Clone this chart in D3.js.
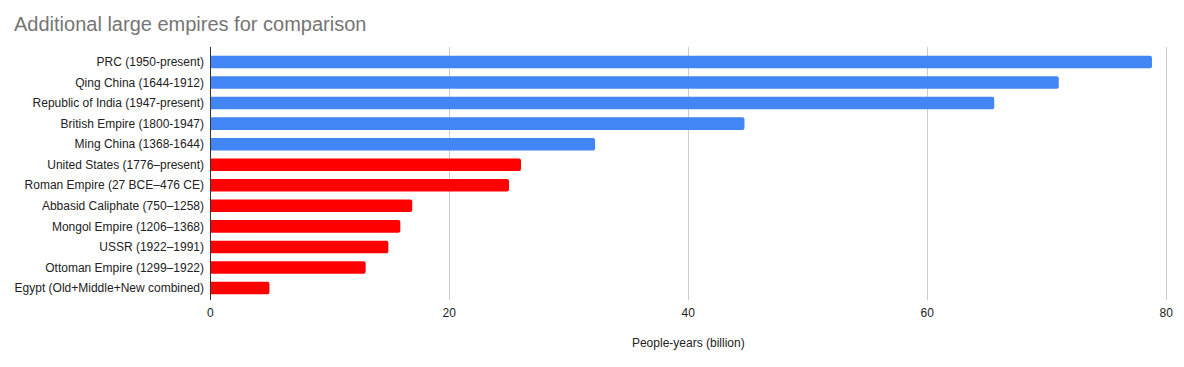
<!DOCTYPE html>
<html>
<head>
<meta charset="utf-8">
<script src="https://cdn.jsdelivr.net/npm/d3@7"></script>
<style>
  body { margin: 0; background: #fff; }
  text { font-family: Arial, "Liberation Sans", sans-serif; }
</style>
</head>
<body>
<script>
var empires = [
  "PRC (1950-present)",
  "Qing China (1644-1912)",
  "Republic of India (1947-present)",
  "British Empire (1800-1947)",
  "Ming China (1368-1644)",
  "United States (1776–present)",
  "Roman Empire (27 BCE–476 CE)",
  "Abbasid Caliphate (750–1258)",
  "Mongol Empire (1206–1368)",
  "USSR (1922–1991)",
  "Ottoman Empire (1299–1922)",
  "Egypt (Old+Middle+New combined)"
];
var peopleYears = [78.8, 71.0, 65.6, 44.7, 32.2, 26.0, 25.0, 16.9, 15.9, 14.9, 13.0, 4.95];
var group = ["blue", "blue", "blue", "blue", "blue", "red", "red", "red", "red", "red", "red", "red"];
var xTicks = [0, 20, 40, 60, 80];

var colors = { blue: "#4285f4", red: "#ff0000" };

var svg = d3.select("body").append("svg")
  .attr("width", 1184)
  .attr("height", 367);

var plotTop = 47, plotBottom = 300;

var x = d3.scaleLinear().domain([0, 80]).range([210.3, 1166.3]);
var y = d3.scaleBand().domain(empires).range([51.7, 298.3])
  .paddingInner(0.39).paddingOuter(0.195);

svg.append("text")
  .attr("x", 14)
  .attr("y", 31)
  .style("font-size", "20px")
  .style("fill", "#757575")
  .text("Additional large empires for comparison");

// grid
svg.append("g").selectAll("line")
  .data(xTicks.slice(1))
  .join("line")
  .attr("x1", d => Math.round(x(d)) + 0.5)
  .attr("x2", d => Math.round(x(d)) + 0.5)
  .attr("y1", plotTop)
  .attr("y2", plotBottom)
  .attr("stroke", "#cccccc")
  .attr("stroke-width", 1);

// bars
var rows = empires.map((name, i) => ({ name: name, value: peopleYears[i], group: group[i] }));

svg.append("g").selectAll("path")
  .data(rows)
  .join("path")
  .attr("fill", d => colors[d.group])
  .attr("d", function(d) {
    var x0 = x(0), x1 = x(d.value), y0 = y(d.name), h = y.bandwidth(), r = 2;
    return "M" + x0 + "," + y0 +
      "H" + (x1 - r) +
      "Q" + x1 + "," + y0 + " " + x1 + "," + (y0 + r) +
      "V" + (y0 + h - r) +
      "Q" + x1 + "," + (y0 + h) + " " + (x1 - r) + "," + (y0 + h) +
      "H" + x0 + "Z";
  });

// zero line
svg.append("line")
  .attr("x1", Math.round(x(0)) + 0.5)
  .attr("x2", Math.round(x(0)) + 0.5)
  .attr("y1", plotTop)
  .attr("y2", plotBottom)
  .attr("stroke", "#333333");

// y labels
svg.append("g").selectAll("text")
  .data(empires)
  .join("text")
  .attr("x", 204)
  .attr("y", d => y(d) + y.bandwidth() / 2)
  .attr("dy", "0.35em")
  .attr("text-anchor", "end")
  .style("font-size", "12px")
  .style("fill", "#222222")
  .text(d => d);

// x tick labels
svg.append("g").selectAll("text")
  .data(xTicks)
  .join("text")
  .attr("x", d => x(d))
  .attr("y", 317)
  .attr("text-anchor", "middle")
  .style("font-size", "12px")
  .style("fill", "#222222")
  .text(d => d);

svg.append("text")
  .attr("x", (x(0) + x(80)) / 2)
  .attr("y", 347)
  .attr("text-anchor", "middle")
  .style("font-size", "12px")
  .style("fill", "#222222")
  .text("People-years (billion)");
</script>
</body>
</html>
